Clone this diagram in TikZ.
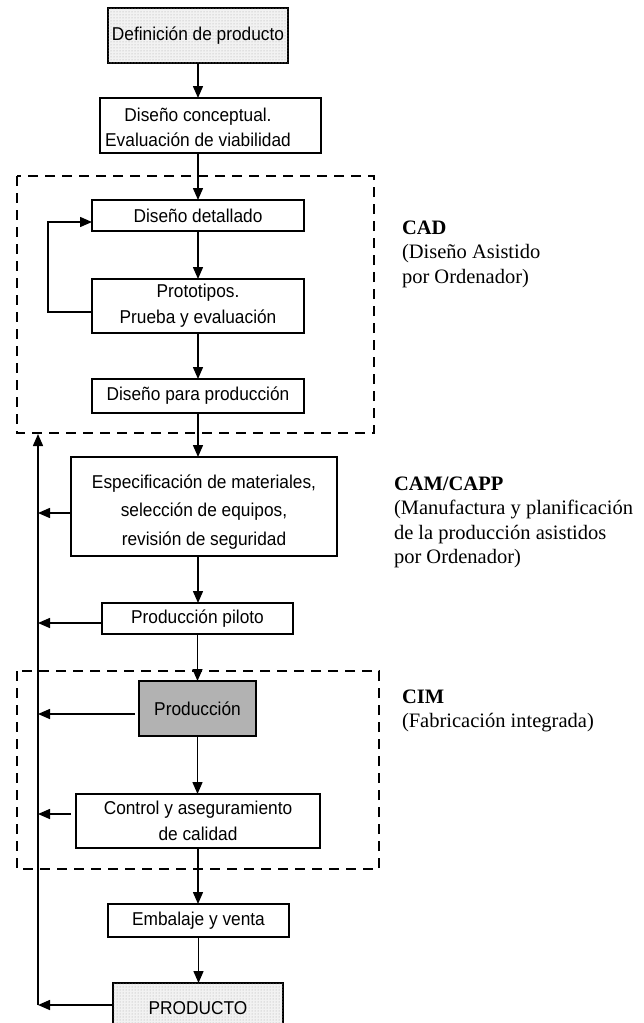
\documentclass[tikz,border=0pt]{standalone}
\usepackage{fontspec}
\setmainfont{Liberation Serif}
\newfontfamily\boxfont[FakeStretch=0.93]{Liberation Sans}
\usetikzlibrary{arrows.meta,patterns,calc}

\begin{document}
\begin{tikzpicture}[x=1pt,y=-1pt,
  every node/.style={inner sep=0pt, outer sep=0pt},
  boxtext/.style={font=\boxfont\fontsize{18.6}{26}\selectfont, align=center},
  stepbox/.style={boxtext, draw, line width=1.5pt},
  dotbox/.style={stepbox, fill=black!5, postaction={pattern=dots, pattern color=black!35}},
  graybox/.style={stepbox, fill=black!30},
  zone/.style={draw, line width=1.5pt, dash pattern=on 10pt off 7pt},
  arr/.style={line width=1.5pt, -{Triangle[length=12pt,width=10pt]}},
  side/.style={anchor=base west, font=\fontsize{20.5}{24.5}\selectfont},
  sidehead/.style={anchor=base west, font=\bfseries\fontsize{20.5}{24.5}\selectfont}
]
\useasboundingbox (0,0) rectangle (643,1023);

% dashed areas: CAD and CIM
\draw[zone] (17,176) rectangle (374,433);
\draw[zone] (17,671) rectangle (379,869);

% process steps
\node[dotbox, minimum width=180pt, minimum height=55pt] (def) at (198,35.5) {Definición de producto};
\node[stepbox, minimum width=221pt, minimum height=55pt] (concept) at (210.5,125.5) {};
\node[boxtext, font=\boxfont\fontsize{18.6}{25}\selectfont] (conceptText) at (198,127.5) {Diseño conceptual.\\Evaluación de viabilidad};
\node[stepbox, minimum width=212pt, minimum height=31pt] (det) at (198,215.5) {Diseño detallado};
\node[stepbox, minimum width=212pt, minimum height=54pt] (proto) at (198,306) {Prototipos.\\Prueba y evaluación};
\node[stepbox, minimum width=212pt, minimum height=34pt] (dprod) at (198,396) {Diseño para producción};
\node[stepbox, minimum width=266pt, minimum height=99pt] (espec) at (204,506.5) {};
\node[boxtext, font=\boxfont\fontsize{18.6}{28.5}\selectfont] (especText) at (204,512) {Especificación de materiales,\\selección de equipos,\\revisión de seguridad};
\node[stepbox, minimum width=191pt, minimum height=31pt] (pil) at (197.5,618.5) {Producción piloto};
\node[graybox, minimum width=117pt, minimum height=55pt] (prod) at (197.5,708.5) {Producción};
\node[stepbox, minimum width=244pt, minimum height=54pt] (ctrl) at (198,821) {Control y aseguramiento\\de calidad};
\node[stepbox, minimum width=181pt, minimum height=33pt] (emb) at (198.5,920.5) {Embalaje y venta};
\node[dotbox, minimum width=170pt, minimum height=51pt] (final) at (198,1008.5) {PRODUCTO};

% main flow
\draw[arr] (def.south) -- (def.south |- concept.north);
\draw[arr] (concept.south -| def.south) -- (det.north);
\draw[arr] (det.south) -- (proto.north);
\draw[arr] (proto.south) -- (dprod.north);
\draw[arr] (dprod.south) -- (dprod.south |- espec.north);
\draw[arr] (espec.south -| dprod.south) -- (pil.north -| dprod.south);
\draw[arr] (pil.south) -- (prod.north -| pil.south);
\draw[arr] (prod.south) -- (ctrl.north -| prod.south);
\draw[arr] (ctrl.south) -- (emb.north -| ctrl.south);
\draw[arr] (emb.south) -- (final.north -| emb.south);

% design iteration loop
\draw[arr] ($(proto.west)+(0,6)$) -- ++(-44,0) |- ($(det.west)+(0,6.5)$);

% feedback bus on the left
\coordinate (busTop) at (38,434);
\coordinate (busBot) at (38,1005);
\draw[arr] (final.west |- busBot) -- (busBot);
\draw[arr] (busBot) -- (busTop);
\draw[arr] ($(espec.west)+(0,6.5)$) coordinate (fbE) -- (fbE -| busTop);
\draw[arr] ($(pil.west)+(0,4.5)$) coordinate (fbP) -- (fbP -| busTop);
\draw[arr] ($(prod.west)+(-4,5.5)$) coordinate (fbR) -- (fbR -| busTop);
\draw[arr] ($(ctrl.west)+(-5,-7)$) coordinate (fbC) -- (fbC -| busTop);

% area labels
\node[sidehead] (cadH) at (402,234) {CAD};
\node[side] (cadA) at (402,258.5) {(Diseño Asistido};
\node[side] (cadB) at (402,283) {por Ordenador)};

\node[sidehead] (camH) at (394,490) {CAM/CAPP};
\node[side] (camA) at (394,514.5) {(Manufactura y planificación};
\node[side] (camB) at (394,539) {de la producción asistidos};
\node[side] (camC) at (394,563.5) {por Ordenador)};

\node[sidehead] (cimH) at (402,703) {CIM};
\node[side] (cimA) at (402,727.5) {(Fabricación integrada)};
\end{tikzpicture}
\end{document}
